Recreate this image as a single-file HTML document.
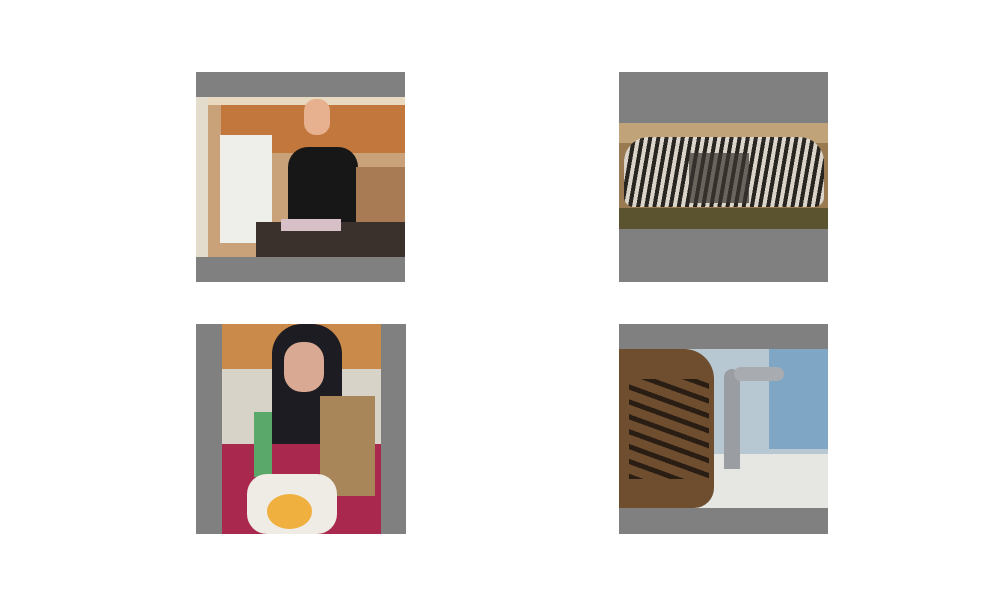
<!DOCTYPE html>
<html><head><meta charset="utf-8"><style>
body{margin:0;background:#fff;width:1000px;height:600px;position:relative;overflow:hidden;font-family:"Liberation Sans",sans-serif}
.p{position:absolute;background:#808080;overflow:hidden}
.i{position:absolute;overflow:hidden}
.b{position:absolute}
</style></head><body>
<div class="p" style="left:196px;top:72px;width:209px;height:210px">
 <div class="i" style="left:0;top:25px;width:209px;height:160px;background:#c9a27a">
  <div class="b" style="left:0;top:0;width:209px;height:8px;background:#e8d9c0"></div>
  <div class="b" style="left:25px;top:8px;width:185px;height:48px;background:#c2773c"></div>
  <div class="b" style="left:0;top:0;width:12px;height:160px;background:#e3dccd"></div>
  <div class="b" style="left:24px;top:38px;width:52px;height:108px;background:#eeeeea"></div>
  <div class="b" style="left:92px;top:50px;width:70px;height:75px;background:#171717;border-radius:20px 20px 0 0"></div>
  <div class="b" style="left:108px;top:2px;width:26px;height:36px;background:#e7b08e;border-radius:12px"></div>
  <div class="b" style="left:160px;top:70px;width:49px;height:60px;background:#a87b55"></div>
  <div class="b" style="left:60px;top:125px;width:149px;height:35px;background:#3a302c"></div>
  <div class="b" style="left:85px;top:122px;width:60px;height:12px;background:#d8c0c8"></div>
 </div>
</div>
<div class="p" style="left:619px;top:72px;width:209px;height:210px">
 <div class="i" style="left:0;top:51px;width:209px;height:106px;background:#9a7a50">
  <div class="b" style="left:0;top:0;width:209px;height:20px;background:#c0a379"></div>
  <div class="b" style="left:0;top:85px;width:209px;height:21px;background:#5b5230"></div>
  <div class="b" style="left:5px;top:14px;width:200px;height:70px;background:repeating-linear-gradient(100deg,#1b1b1b 0 4px,#e0ddd6 4px 8px);border-radius:25px 25px 10px 10px;opacity:.9"></div>
  <div class="b" style="left:70px;top:30px;width:60px;height:50px;background:#3a3530;opacity:.7"></div>
 </div>
</div>
<div class="p" style="left:196px;top:324px;width:210px;height:210px">
 <div class="i" style="left:26px;top:0;width:159px;height:210px;background:#d8d3c8">
  <div class="b" style="left:0;top:0;width:159px;height:45px;background:#c98a4a"></div>
  <div class="b" style="left:0;top:120px;width:159px;height:90px;background:#a8284e"></div>
  <div class="b" style="left:50px;top:0;width:70px;height:120px;background:#1c1c22;border-radius:30px 30px 0 0"></div>
  <div class="b" style="left:62px;top:18px;width:40px;height:50px;background:#d9a994;border-radius:18px"></div>
  <div class="b" style="left:98px;top:72px;width:55px;height:100px;background:#a9855a"></div>
  <div class="b" style="left:32px;top:88px;width:18px;height:65px;background:#5aa86a"></div>
  <div class="b" style="left:25px;top:150px;width:90px;height:60px;background:#efece6;border-radius:20px"></div>
  <div class="b" style="left:45px;top:170px;width:45px;height:35px;background:#f0b040;border-radius:50%"></div>
 </div>
</div>
<div class="p" style="left:619px;top:324px;width:209px;height:210px">
 <div class="i" style="left:0;top:25px;width:209px;height:159px;background:#b8c8d2">
  <div class="b" style="left:150px;top:0;width:59px;height:100px;background:#7fa6c4"></div>
  <div class="b" style="left:0;top:105px;width:209px;height:54px;background:#e6e6e3"></div>
  <div class="b" style="left:0;top:0;width:95px;height:159px;background:#6e4e2e;border-radius:0 30px 20px 0"></div>
  <div class="b" style="left:10px;top:30px;width:80px;height:100px;background:repeating-linear-gradient(20deg,#2a1e14 0 5px,transparent 5px 14px)"></div>
  <div class="b" style="left:105px;top:20px;width:16px;height:100px;background:#9a9ea2;border-radius:8px 8px 0 0"></div>
  <div class="b" style="left:115px;top:18px;width:50px;height:14px;background:#a8acb0;border-radius:7px"></div>
 </div>
</div>
</body></html>
